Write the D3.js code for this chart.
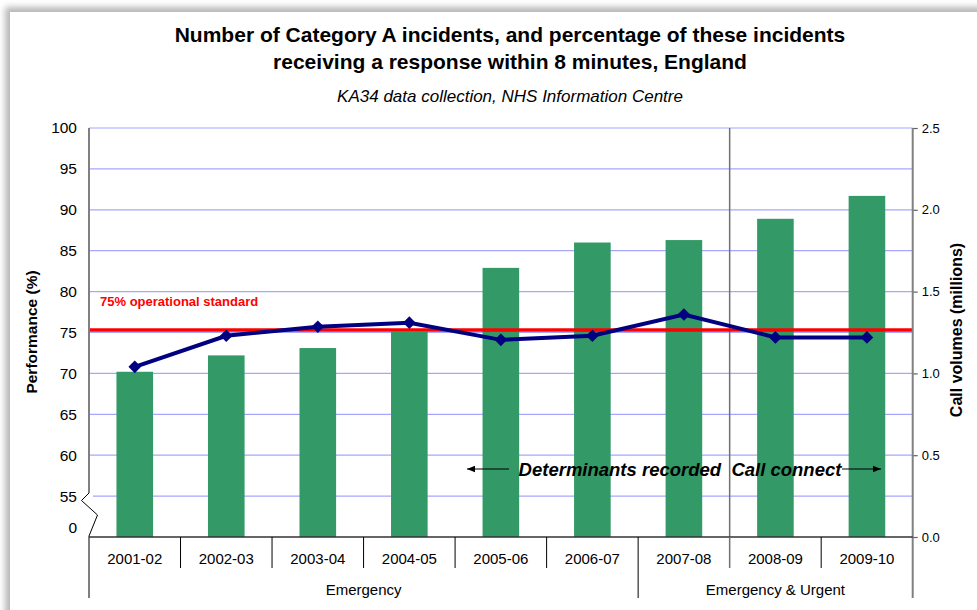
<!DOCTYPE html>
<html>
<head>
<meta charset="utf-8">
<style>
body { margin: 0; background: #fff; }
svg text { font-family: 'Liberation Sans', Arial, sans-serif; }
</style>
</head>
<body>
<svg width="977" height="610"></svg>
<script src="https://d3js.org/d3.v7.min.js"></script>
<script>

// chart data
var years = ['2001-02', '2002-03', '2003-04', '2004-05', '2005-06', '2006-07', '2007-08', '2008-09', '2009-10']
var callVolumes = [1.01, 1.11, 1.155, 1.255, 1.645, 1.80, 1.815, 1.945, 2.085]
var performance = [70.8, 74.6, 75.7, 76.2, 74.1, 74.6, 77.2, 74.4, 74.4]
var groupLabels = ['Emergency', 'Emergency & Urgent']
var groupStarts = ['2001-02', '2007-08']
var groupEnds = ['2006-07', '2009-10']
var leftTicks = [50, 55, 60, 65, 70, 75, 80, 85, 90, 95, 100]
var rightTicks = [0, 0.5, 1.0, 1.5, 2.0, 2.5]
var standardValue = 75.3
var standardLabel = '75% operational standard'
var dividerAfter = '2007-08'

var svg = d3.select('svg')

// panel with soft shadow on top / left
var defs = svg.append('defs')
defs.append('filter').attr('id', 'blur')
  .attr('x', '-10%').attr('y', '-10%').attr('width', '120%').attr('height', '120%')
  .append('feGaussianBlur').attr('stdDeviation', 3)
svg.append('rect').attr('x', 5).attr('y', 7).attr('width', 1000).attr('height', 640)
  .attr('fill', '#b8b8b8').attr('filter', 'url(#blur)')
svg.append('rect').attr('x', 10).attr('y', 12).attr('width', 1000).attr('height', 640)
  .attr('fill', '#fff')

var plotLeft = 89, plotRight = 912.7, plotTop = 128, plotBottom = 537

var x = d3.scaleBand().domain(years).range([plotLeft, plotRight])
var yLeft = d3.scaleLinear().domain([50, 100]).range([plotBottom, plotTop])
var yRight = d3.scaleLinear().domain([0, 2.5]).range([plotBottom, plotTop])

// titles
svg.append('text').attr('x', 510).attr('y', 42).attr('text-anchor', 'middle')
  .attr('font-size', 21).attr('font-weight', 'bold')
  .text('Number of Category A incidents, and percentage of these incidents')
svg.append('text').attr('x', 510).attr('y', 69).attr('text-anchor', 'middle')
  .attr('font-size', 21).attr('font-weight', 'bold')
  .text('receiving a response within 8 minutes, England')
svg.append('text').attr('x', 510).attr('y', 102).attr('text-anchor', 'middle')
  .attr('font-size', 17).attr('font-style', 'italic')
  .text('KA34 data collection, NHS Information Centre')

// gridlines
svg.append('g').selectAll('line')
  .data(leftTicks.filter(function (d) { return d > 50 }))
  .enter().append('line')
  .attr('x1', function (d) { return d === 55 ? plotLeft + 4 : plotLeft })
  .attr('x2', plotRight)
  .attr('y1', function (d) { return yLeft(d) })
  .attr('y2', function (d) { return yLeft(d) })
  .attr('stroke', '#a6a6ff').attr('stroke-width', 1.2)

// bars
svg.append('g').selectAll('rect')
  .data(years)
  .enter().append('rect')
  .attr('x', function (d) { return x(d) + x.bandwidth() * 0.3 })
  .attr('width', x.bandwidth() * 0.4)
  .attr('y', function (d, i) { return yRight(callVolumes[i]) })
  .attr('height', function (d, i) { return plotBottom - yRight(callVolumes[i]) })
  .attr('fill', '#339966')

// divider between call-handling regimes
var divX = x(dividerAfter) + x.bandwidth()
svg.append('line').attr('x1', divX).attr('x2', divX).attr('y1', plotTop).attr('y2', plotBottom)
  .attr('stroke', '#707070').attr('stroke-width', 1.5)

// 75% standard
svg.append('line').attr('x1', plotLeft).attr('x2', plotRight)
  .attr('y1', yLeft(standardValue)).attr('y2', yLeft(standardValue))
  .attr('stroke', '#ff0000').attr('stroke-width', 3.5)
svg.append('text').attr('x', 100).attr('y', 306)
  .attr('font-size', 13).attr('font-weight', 'bold').attr('fill', '#ff0000')
  .text(standardLabel)

// performance line
var line = d3.line()
  .x(function (d, i) { return x(years[i]) + x.bandwidth() / 2 })
  .y(function (d) { return yLeft(d) })
svg.append('path').datum(performance)
  .attr('d', line).attr('fill', 'none')
  .attr('stroke', '#000080').attr('stroke-width', 4)
svg.append('g').selectAll('path')
  .data(performance)
  .enter().append('path')
  .attr('d', d3.symbol(d3.symbolSquare, 80))
  .attr('transform', function (d, i) {
    return 'translate(' + (x(years[i]) + x.bandwidth() / 2) + ',' + yLeft(d) + ') rotate(45)'
  })
  .attr('fill', '#000080')

// annotation with arrows
svg.append('text').attr('x', 680).attr('y', 476).attr('text-anchor', 'middle')
  .attr('font-size', 18.5).attr('font-weight', 'bold').attr('font-style', 'italic')
  .attr('xml:space', 'preserve')
  .text('Determinants recorded  Call connect')
defs.append('marker').attr('id', 'arrow')
  .attr('viewBox', '0 -5 10 10').attr('refX', 10).attr('refY', 0)
  .attr('markerWidth', 8).attr('markerHeight', 8).attr('markerUnits', 'userSpaceOnUse')
  .attr('orient', 'auto')
  .append('path').attr('d', 'M0,-4L10,0L0,4Z').attr('fill', '#000')
svg.append('line').attr('x1', 509).attr('x2', 467).attr('y1', 469).attr('y2', 469)
  .attr('stroke', '#000').attr('stroke-width', 1.2).attr('marker-end', 'url(#arrow)')
svg.append('line').attr('x1', 842).attr('x2', 881).attr('y1', 469).attr('y2', 469)
  .attr('stroke', '#000').attr('stroke-width', 1.2).attr('marker-end', 'url(#arrow)')

// left axis (with break between 0 and 55)
var leftAxis = svg.append('g').attr('transform', 'translate(' + plotLeft + ',0)')
  .call(d3.axisLeft(yLeft).tickValues(leftTicks).tickSize(0).tickPadding(12)
    .tickFormat(function (d) { return d === 50 ? '0' : d }))
leftAxis.select('.domain').remove()
leftAxis.selectAll('text').attr('font-size', 15.5).attr('fill', '#000')
  .style('font-family', "'Liberation Sans', Arial, sans-serif")
leftAxis.selectAll('.tick').filter(function (d) { return d === 50 })
  .select('text').attr('y', -9)
svg.append('line').attr('x1', plotLeft).attr('x2', plotLeft).attr('y1', plotTop).attr('y2', 493)
  .attr('stroke', '#808080').attr('stroke-width', 2)
svg.append('path').attr('d', 'M' + plotLeft + ',493L81.5,500.5L97.5,515L' + plotLeft + ',536')
  .attr('fill', 'none').attr('stroke', '#000').attr('stroke-width', 1)
svg.append('line').attr('x1', plotLeft).attr('x2', plotLeft).attr('y1', 536).attr('y2', 598)
  .attr('stroke', '#555').attr('stroke-width', 1.5)

// right axis
var rightAxis = svg.append('g').attr('transform', 'translate(' + plotRight + ',0)')
  .call(d3.axisRight(yRight).tickValues(rightTicks).tickSize(5).tickPadding(4)
    .tickFormat(d3.format('.1f')))
rightAxis.select('.domain').remove()
rightAxis.selectAll('.tick line').attr('stroke', '#606060').attr('stroke-width', 1.2)
rightAxis.selectAll('text').attr('font-size', 13).attr('fill', '#000')
  .style('font-family', "'Liberation Sans', Arial, sans-serif")
svg.append('line').attr('x1', plotRight).attr('x2', plotRight).attr('y1', plotTop).attr('y2', 598)
  .attr('stroke', '#808080').attr('stroke-width', 2)

// category axis (two levels)
var bottomAxis = svg.append('g').attr('transform', 'translate(0,' + plotBottom + ')')
  .call(d3.axisBottom(x).tickSize(0).tickPadding(16))
bottomAxis.select('.domain').remove()
bottomAxis.selectAll('text').attr('font-size', 15).attr('fill', '#000')
  .style('font-family', "'Liberation Sans', Arial, sans-serif")
svg.append('line').attr('x1', plotLeft).attr('x2', plotRight).attr('y1', plotBottom).attr('y2', plotBottom)
  .attr('stroke', '#333').attr('stroke-width', 1.5)

svg.append('g').selectAll('line')
  .data(years.slice(0, -1))
  .enter().append('line')
  .attr('x1', function (d) { return x(d) + x.bandwidth() })
  .attr('x2', function (d) { return x(d) + x.bandwidth() })
  .attr('y1', plotBottom)
  .attr('y2', function (d) { return groupEnds.indexOf(d) > -1 ? 598 : 568 })
  .attr('stroke', function (d) { return d === dividerAfter ? '#707070' : '#000' })
  .attr('stroke-width', function (d) { return d === dividerAfter ? 1.5 : 1 })

svg.append('g').selectAll('text')
  .data(groupLabels)
  .enter().append('text')
  .attr('x', function (d, i) {
    return (x(groupStarts[i]) + x(groupEnds[i]) + x.bandwidth()) / 2
  })
  .attr('y', 595)
  .attr('text-anchor', 'middle')
  .attr('font-size', 15)
  .text(function (d) { return d })

// axis titles
svg.append('text')
  .attr('transform', 'translate(37,332) rotate(-90)')
  .attr('text-anchor', 'middle').attr('font-size', 15.5).attr('font-weight', 'bold')
  .text('Performance (%)')
svg.append('text')
  .attr('transform', 'translate(962,330) rotate(-90)')
  .attr('text-anchor', 'middle').attr('font-size', 16).attr('font-weight', 'bold')
  .text('Call volumes (millions)')

</script>
</body>
</html>
